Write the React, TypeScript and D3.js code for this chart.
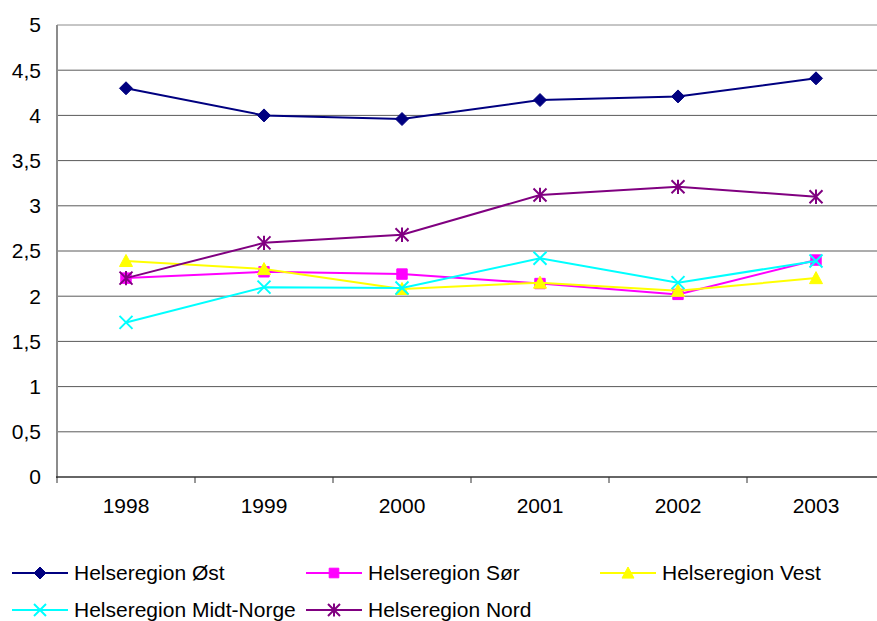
import React, { useEffect, useRef } from 'react'
import * as d3 from 'd3'

const years = ['1998', '1999', '2000', '2001', '2002', '2003']
const yTicks = [0, 0.5, 1, 1.5, 2, 2.5, 3, 3.5, 4, 4.5, 5]

const ost = [4.3, 4.0, 3.96, 4.17, 4.21, 4.41]
const sor = [2.2, 2.27, 2.245, 2.14, 2.02, 2.4]
const vest = [2.39, 2.3, 2.08, 2.15, 2.06, 2.2]
const midtNorge = [1.71, 2.1, 2.09, 2.42, 2.15, 2.39]
const nord = [2.2, 2.59, 2.68, 3.12, 3.21, 3.1]

const seriesNames = ['Helseregion Øst', 'Helseregion Sør', 'Helseregion Vest', 'Helseregion Midt-Norge', 'Helseregion Nord']
const seriesColors = ['#000080', '#ff00ff', '#ffff00', '#00ffff', '#800080']
const seriesMarkers = ['diamond', 'square', 'triangle', 'x', 'star']

const FONT = '"Liberation Sans", Arial, sans-serif'

// marker paths centred on 0,0
function markerPath(kind: string, s: number) {
  const h = s / 2
  if (kind === 'diamond') return `M0,${-h}L${h},0L0,${h}L${-h},0Z`
  if (kind === 'square') return `M${-h * 0.8},${-h * 0.8}h${s * 0.8}v${s * 0.8}h${-s * 0.8}Z`
  if (kind === 'triangle') return `M0,${-h}L${h},${h * 0.85}L${-h},${h * 0.85}Z`
  if (kind === 'x') return `M${-h},${-h}L${h},${h}M${-h},${h}L${h},${-h}`
  return `M${-h},${-h}L${h},${h}M${-h},${h}L${h},${-h}M0,${-h * 1.1}L0,${h * 1.1}`
}

function drawMarker(g: any, kind: string, color: string, x: number, y: number, s: number) {
  const filled = kind === 'diamond' || kind === 'square' || kind === 'triangle'
  g.append('path')
    .attr('d', markerPath(kind, s))
    .attr('transform', `translate(${x},${y})`)
    .attr('fill', filled ? color : 'none')
    .attr('stroke', color)
    .attr('stroke-width', filled ? 1 : 2)
}

export default function App() {
  const svgRef = useRef<SVGSVGElement>(null)

  useEffect(() => {
    const svg = d3.select(svgRef.current)
    svg.selectAll('*').remove()

    const x = d3.scaleBand().domain(years).range([57, 885]).padding(0)
    const y = d3.scaleLinear().domain([0, 5]).range([477, 25])
    const cx = (yr: string) => (x(yr) as number) + x.bandwidth() / 2

    // gridlines
    svg.append('g')
      .selectAll('line')
      .data(yTicks.filter(t => t > 0))
      .join('line')
      .attr('x1', 57).attr('x2', 885)
      .attr('y1', d => y(d)).attr('y2', d => y(d))
      .attr('stroke', d => (d === 5 ? '#8c8c8c' : '#5a5a5a'))
      .attr('stroke-width', 1)

    // y labels
    svg.append('g')
      .selectAll('text')
      .data(yTicks)
      .join('text')
      .attr('x', 41)
      .attr('y', d => y(d))
      .attr('dy', '0.35em')
      .attr('text-anchor', 'end')
      .attr('font-family', FONT)
      .attr('font-size', 21)
      .attr('fill', '#000')
      .text(d => String(d).replace('.', ','))

    // left axis
    svg.append('line')
      .attr('x1', 57).attr('x2', 57).attr('y1', 25).attr('y2', 478)
      .attr('stroke', '#8c8c8c').attr('stroke-width', 2)

    // bottom axis
    const xAxis = svg.append('g').attr('transform', 'translate(0,477)')
    xAxis.append('line').attr('x1', 56).attr('x2', 885).attr('y1', 0).attr('y2', 0)
      .attr('stroke', '#333').attr('stroke-width', 1.5)
    xAxis.selectAll('line.tick')
      .data(years)
      .join('line')
      .attr('class', 'tick')
      .attr('x1', d => (x(d) as number)).attr('x2', d => (x(d) as number))
      .attr('y1', 0).attr('y2', 6)
      .attr('stroke', '#333').attr('stroke-width', 1)
    xAxis.selectAll('text')
      .data(years)
      .join('text')
      .attr('x', d => cx(d))
      .attr('y', 36)
      .attr('text-anchor', 'middle')
      .attr('font-family', FONT)
      .attr('font-size', 21)
      .attr('fill', '#000')
      .text(d => d)

    // series
    const allSeries = [ost, sor, vest, midtNorge, nord]
    const line = d3.line<number>()
      .x((_, i) => cx(years[i]))
      .y(d => y(d))

    allSeries.forEach((vals, si) => {
      const g = svg.append('g')
      g.append('path')
        .datum(vals)
        .attr('fill', 'none')
        .attr('stroke', seriesColors[si])
        .attr('stroke-width', 2)
        .attr('d', line)
      vals.forEach((v, i) => drawMarker(g, seriesMarkers[si], seriesColors[si], cx(years[i]), y(v), 13))
    })

    // legend
    const legendPos = [
      [12, 573], [306, 573], [600, 573],
      [12, 610], [306, 610],
    ]
    seriesNames.forEach((name, si) => {
      const [lx, ly] = legendPos[si]
      const g = svg.append('g')
      g.append('line')
        .attr('x1', lx).attr('x2', lx + 56).attr('y1', ly).attr('y2', ly)
        .attr('stroke', seriesColors[si]).attr('stroke-width', 2)
      drawMarker(g, seriesMarkers[si], seriesColors[si], lx + 28, ly, 12)
      g.append('text')
        .attr('x', lx + 62)
        .attr('y', ly)
        .attr('dy', '0.35em')
        .attr('font-family', FONT)
        .attr('font-size', 21)
        .attr('fill', '#000')
        .text(name)
    })
  }, [])

  return (
    <svg
      ref={svgRef}
      width={877}
      height={621}
      style={{ position: 'absolute', left: 0, top: 0, background: '#fff', display: 'block' }}
    />
  )
}
